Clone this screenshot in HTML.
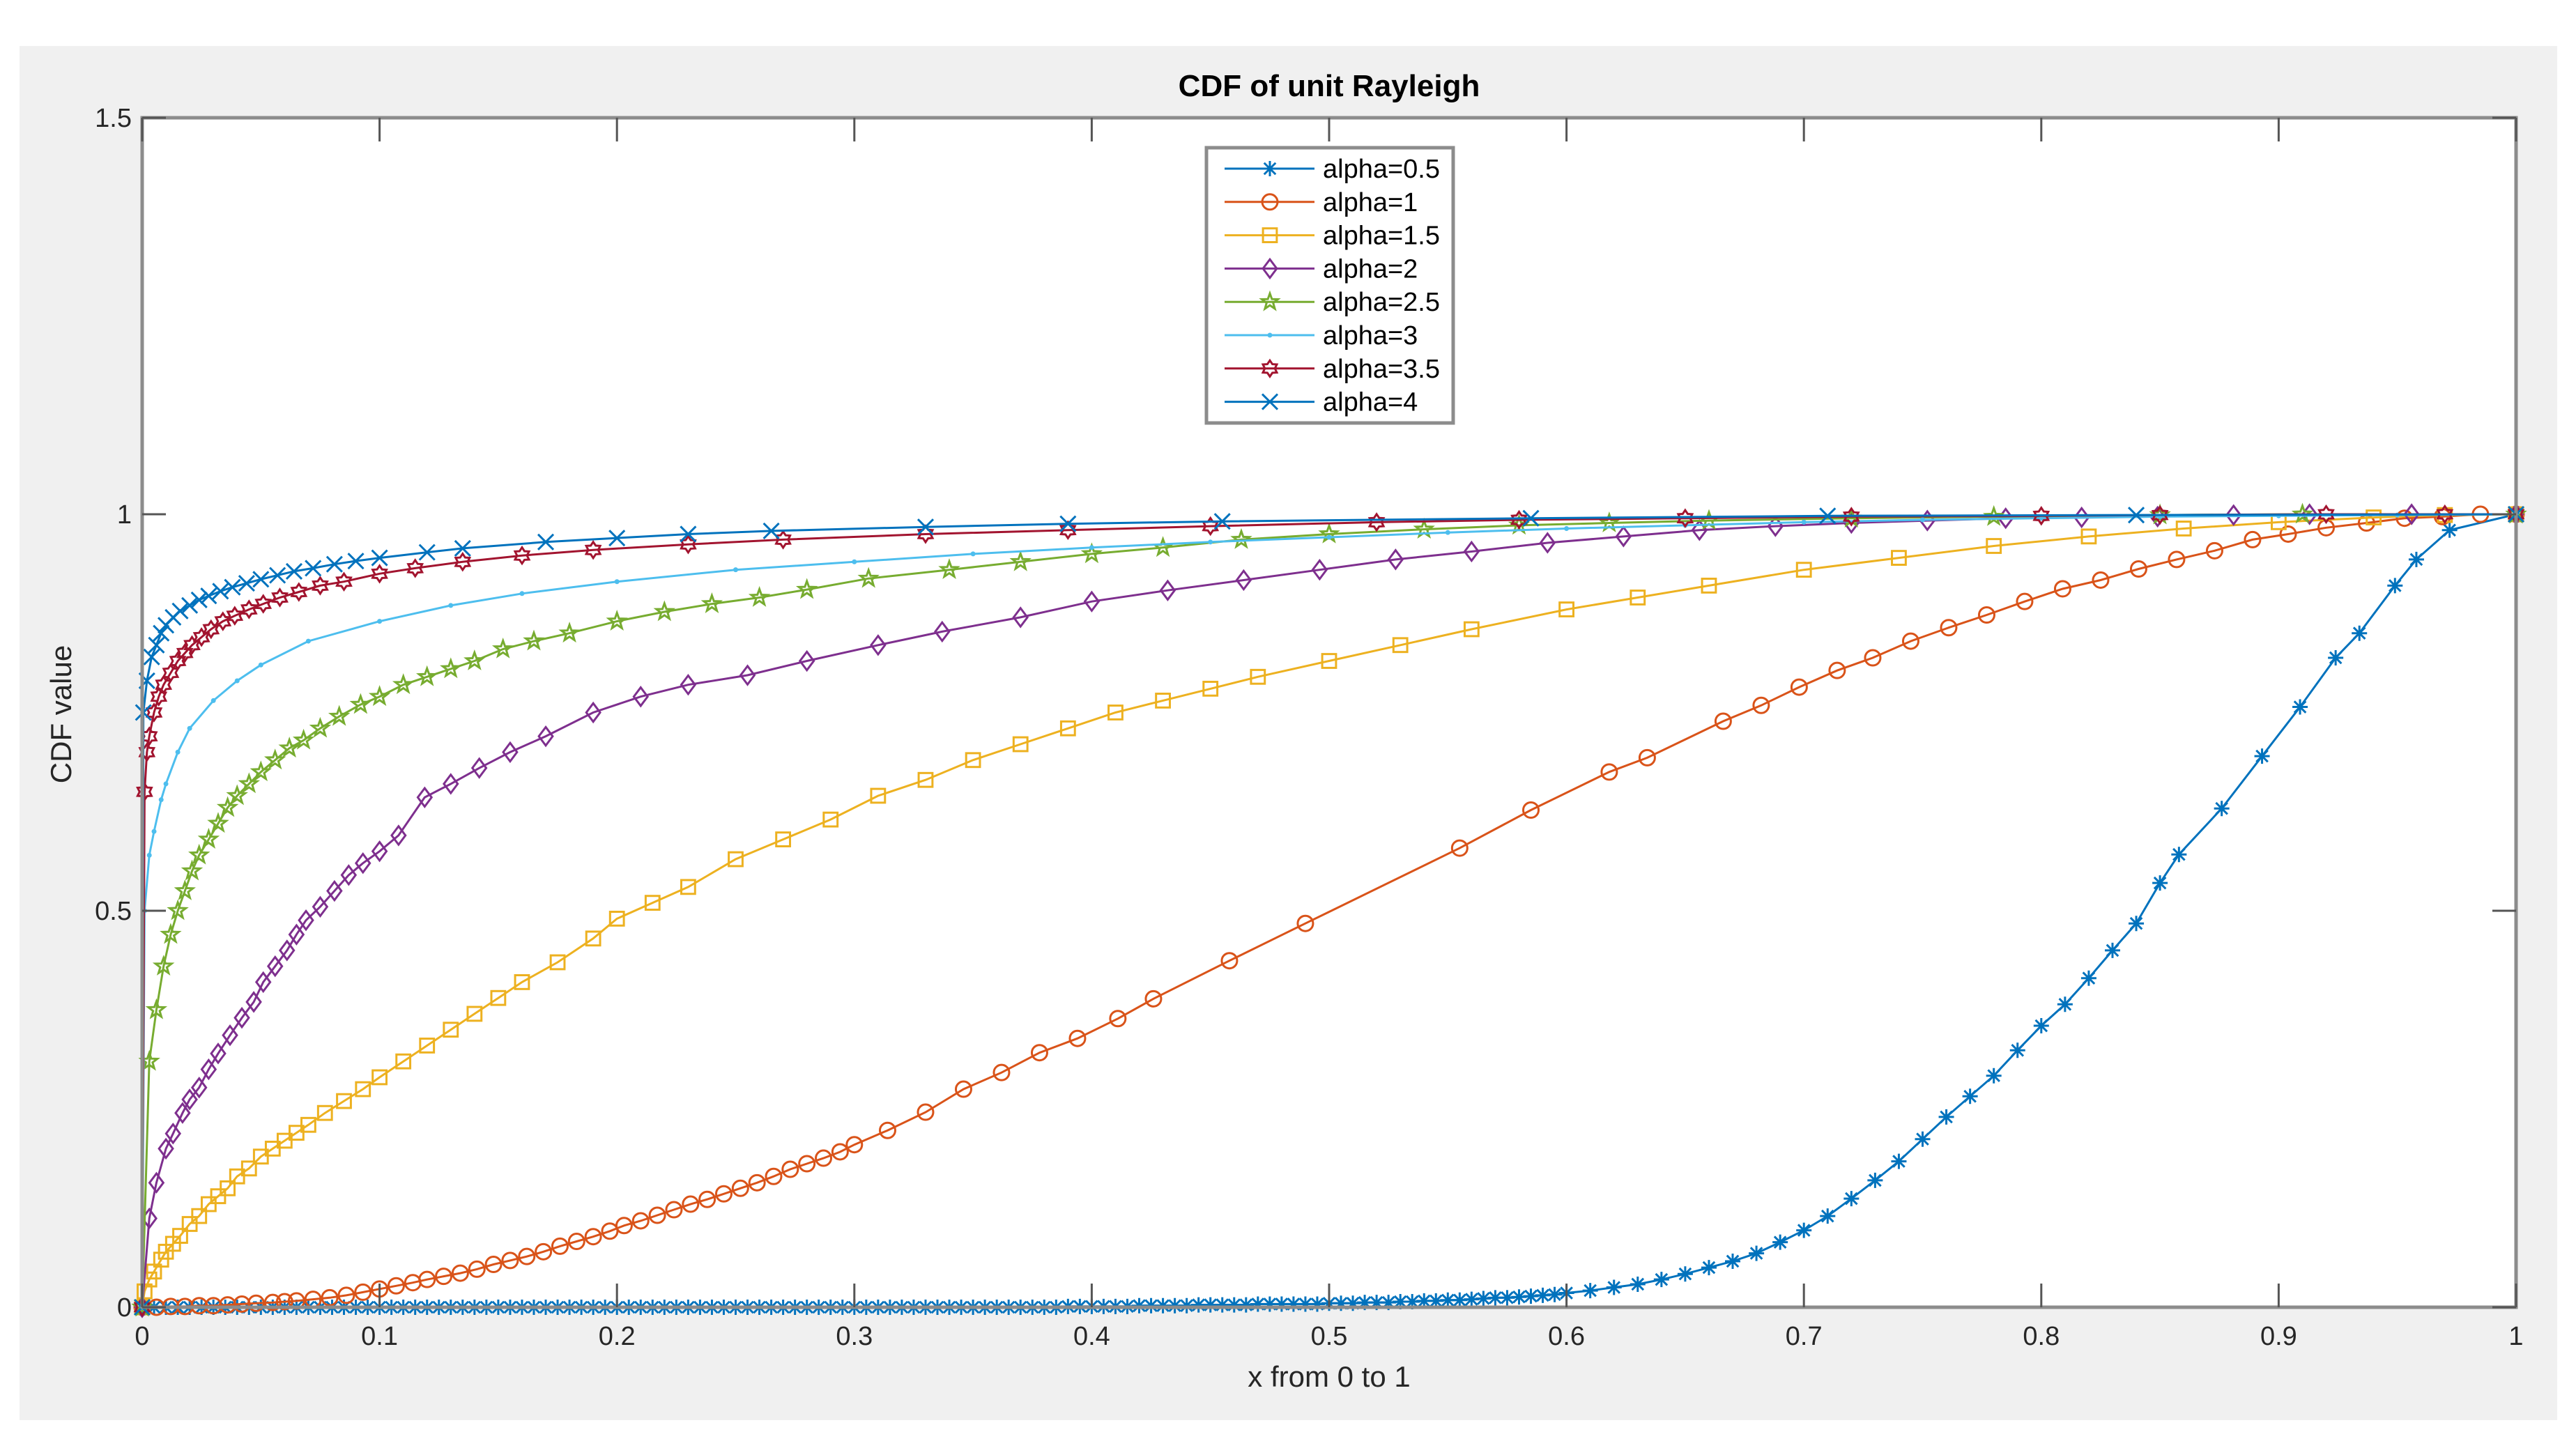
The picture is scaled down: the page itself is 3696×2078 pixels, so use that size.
<!DOCTYPE html>
<html><head><meta charset="utf-8"><style>
html,body{margin:0;padding:0;background:#fff;width:3696px;height:2078px;overflow:hidden}
svg{display:block}
text{font-family:"Liberation Sans",sans-serif}
</style></head><body>
<svg id="chart" width="3696" height="2078" viewBox="0 0 3696 2078" xmlns="http://www.w3.org/2000/svg">
<rect x="28" y="66" width="3641" height="1972" fill="#f0f0f0"/>
<rect x="204" y="169" width="3406" height="1707" fill="#ffffff"/>
<g id="marks"></g>
<g id="axes"></g>
<text x="1907" y="138" font-size="44" font-weight="bold" text-anchor="middle" fill="#000">CDF of unit Rayleigh</text>
<text x="1907" y="1990" font-size="42" text-anchor="middle" fill="#262626">x from 0 to 1</text>
<text x="102" y="1025" font-size="42" text-anchor="middle" fill="#262626" transform="rotate(-90 102 1025)">CDF value</text>
<g id="legend"></g>
</svg>
<script>
const xTicks=[0,0.1,0.2,0.3,0.4,0.5,0.6,0.7,0.8,0.9,1];
const xTickLabels=["0","0.1","0.2","0.3","0.4","0.5","0.6","0.7","0.8","0.9","1"];
const yTicks=[0,0.5,1,1.5];
const yTickLabels=["0","0.5","1","1.5"];
const seriesNames=["alpha=0.5","alpha=1","alpha=1.5","alpha=2","alpha=2.5","alpha=3","alpha=3.5","alpha=4"];

const x05=[0,0.005,0.01,0.015,0.02,0.025,0.03,0.035,0.04,0.045,0.05,0.055,0.06,0.065,0.07,0.075,0.08,0.085,0.09,0.095,0.1,0.105,0.11,0.115,0.12,0.125,0.13,0.135,0.14,0.145,0.15,0.155,0.16,0.165,0.17,0.175,0.18,0.185,0.19,0.195,0.2,0.205,0.21,0.215,0.22,0.225,0.23,0.235,0.24,0.245,0.25,0.255,0.26,0.265,0.27,0.275,0.28,0.285,0.29,0.295,0.3,0.305,0.31,0.315,0.32,0.325,0.33,0.335,0.34,0.345,0.35,0.355,0.36,0.365,0.37,0.375,0.38,0.385,0.39,0.395,0.4,0.405,0.41,0.415,0.42,0.425,0.43,0.435,0.44,0.445,0.45,0.455,0.46,0.465,0.47,0.475,0.48,0.485,0.49,0.495,0.5,0.505,0.51,0.515,0.52,0.525,0.53,0.535,0.54,0.545,0.55,0.555,0.56,0.565,0.57,0.575,0.58,0.585,0.59,0.595,0.6,0.61,0.62,0.63,0.64,0.65,0.66,0.67,0.68,0.69,0.7,0.71,0.72,0.73,0.74,0.75,0.76,0.77,0.78,0.79,0.8,0.81,0.82,0.83,0.84,0.85,0.858,0.876,0.893,0.909,0.924,0.934,0.949,0.958,0.972,1];
const y05=[0,0,0,0,0,0,0,0,0,0,0,0,0,0,0,0,0,0,0,0,0,0,0,0,0,0,0,0,0,0,0,0,0,0,0,0,0,0,0,0,0,0,0,0,0,0,0,0,0,0,0,0,0,0,0,0,0,0,0,0,0,0,0,0,0,0,0,0,0,0,0,0,0,0,0,0,0,0,0.001,0.001,0.001,0.001,0.001,0.001,0.002,0.002,0.002,0.002,0.002,0.003,0.003,0.003,0.003,0.003,0.004,0.004,0.004,0.004,0.004,0.004,0.005,0.005,0.005,0.006,0.006,0.006,0.007,0.007,0.008,0.008,0.009,0.009,0.01,0.011,0.012,0.012,0.013,0.014,0.015,0.016,0.018,0.021,0.025,0.029,0.035,0.042,0.05,0.058,0.068,0.082,0.097,0.115,0.137,0.16,0.184,0.212,0.24,0.266,0.292,0.324,0.355,0.382,0.415,0.45,0.484,0.535,0.571,0.629,0.695,0.757,0.819,0.85,0.91,0.943,0.98,1];
const x1=[0,0.006,0.012,0.018,0.024,0.03,0.036,0.042,0.048,0.055,0.06,0.065,0.072,0.079,0.086,0.093,0.1,0.107,0.114,0.12,0.127,0.134,0.141,0.148,0.155,0.162,0.169,0.176,0.183,0.19,0.197,0.203,0.21,0.217,0.224,0.231,0.238,0.245,0.252,0.259,0.266,0.273,0.28,0.287,0.294,0.3,0.314,0.33,0.346,0.362,0.378,0.394,0.411,0.426,0.458,0.49,0.555,0.585,0.618,0.634,0.666,0.682,0.698,0.714,0.729,0.745,0.761,0.777,0.793,0.809,0.825,0.841,0.857,0.873,0.889,0.904,0.92,0.937,0.953,0.969,0.985,1];
const y1=[0,0,0.001,0.001,0.002,0.002,0.003,0.004,0.005,0.006,0.007,0.008,0.01,0.012,0.015,0.019,0.023,0.027,0.031,0.035,0.039,0.043,0.048,0.054,0.059,0.064,0.07,0.077,0.083,0.089,0.096,0.103,0.109,0.116,0.123,0.13,0.136,0.143,0.15,0.157,0.165,0.174,0.181,0.188,0.196,0.205,0.223,0.246,0.275,0.296,0.321,0.339,0.364,0.389,0.437,0.484,0.579,0.627,0.675,0.693,0.739,0.759,0.782,0.803,0.819,0.84,0.857,0.873,0.89,0.906,0.917,0.931,0.943,0.954,0.968,0.975,0.983,0.989,0.995,0.997,1,1];
const x15=[0,0.001,0.003,0.005,0.008,0.01,0.013,0.016,0.02,0.024,0.028,0.032,0.036,0.04,0.045,0.05,0.055,0.06,0.065,0.07,0.077,0.085,0.093,0.1,0.11,0.12,0.13,0.14,0.15,0.16,0.175,0.19,0.2,0.215,0.23,0.25,0.27,0.29,0.31,0.33,0.35,0.37,0.39,0.41,0.43,0.45,0.47,0.5,0.53,0.56,0.6,0.63,0.66,0.7,0.74,0.78,0.82,0.86,0.9,0.94,0.97,1];
const y15=[0,0.02,0.035,0.045,0.06,0.07,0.08,0.09,0.105,0.115,0.13,0.14,0.15,0.165,0.175,0.19,0.2,0.21,0.22,0.23,0.245,0.26,0.275,0.29,0.31,0.33,0.35,0.37,0.39,0.41,0.435,0.465,0.49,0.51,0.53,0.565,0.59,0.615,0.645,0.665,0.69,0.71,0.73,0.75,0.765,0.78,0.795,0.815,0.835,0.855,0.88,0.895,0.91,0.93,0.945,0.96,0.972,0.982,0.99,0.996,0.999,1];
const x2=[0,0.003,0.006,0.01,0.013,0.017,0.02,0.024,0.028,0.032,0.037,0.042,0.047,0.051,0.056,0.061,0.065,0.069,0.075,0.081,0.087,0.093,0.1,0.108,0.119,0.13,0.142,0.155,0.17,0.19,0.21,0.23,0.255,0.28,0.31,0.337,0.37,0.4,0.432,0.464,0.496,0.528,0.56,0.592,0.624,0.656,0.688,0.72,0.752,0.785,0.817,0.849,0.881,0.913,0.956,1];
const y2=[0,0.112,0.157,0.2,0.219,0.245,0.262,0.277,0.3,0.32,0.343,0.365,0.385,0.41,0.43,0.45,0.47,0.488,0.505,0.525,0.545,0.56,0.575,0.595,0.643,0.66,0.68,0.7,0.72,0.75,0.77,0.785,0.797,0.815,0.835,0.852,0.87,0.89,0.904,0.917,0.93,0.943,0.953,0.964,0.972,0.98,0.985,0.989,0.992,0.995,0.996,0.997,0.999,1,1,1];
const x25=[0,0.003,0.006,0.009,0.012,0.015,0.018,0.021,0.024,0.028,0.032,0.036,0.04,0.045,0.05,0.056,0.062,0.068,0.075,0.083,0.092,0.1,0.11,0.12,0.13,0.14,0.152,0.165,0.18,0.2,0.22,0.24,0.26,0.28,0.306,0.34,0.37,0.4,0.43,0.463,0.5,0.54,0.58,0.618,0.66,0.72,0.78,0.85,0.91,1];
const y25=[0,0.31,0.375,0.43,0.47,0.5,0.525,0.55,0.57,0.59,0.61,0.63,0.645,0.66,0.675,0.69,0.705,0.715,0.73,0.745,0.76,0.77,0.785,0.795,0.805,0.815,0.83,0.84,0.85,0.865,0.877,0.887,0.895,0.905,0.919,0.93,0.94,0.95,0.958,0.968,0.975,0.981,0.986,0.989,0.992,0.995,0.997,0.999,1,1];
const x3=[0,0.001,0.003,0.005,0.008,0.01,0.015,0.02,0.03,0.04,0.05,0.07,0.1,0.13,0.16,0.2,0.25,0.3,0.35,0.4,0.45,0.5,0.55,0.6,0.65,0.7,0.75,0.8,0.85,0.9,0.95,1];
const y3=[0,0.5,0.57,0.6,0.64,0.66,0.7,0.73,0.765,0.79,0.81,0.84,0.865,0.885,0.9,0.915,0.93,0.94,0.95,0.958,0.965,0.971,0.977,0.982,0.986,0.99,0.993,0.995,0.997,0.998,0.999,1];
const x35=[0,0.001,0.002,0.003,0.005,0.007,0.009,0.012,0.015,0.018,0.021,0.025,0.029,0.034,0.039,0.045,0.051,0.058,0.066,0.075,0.085,0.1,0.115,0.135,0.16,0.19,0.23,0.27,0.33,0.39,0.45,0.52,0.58,0.65,0.72,0.8,0.85,0.92,0.97,1];
const y35=[0,0.65,0.7,0.72,0.75,0.77,0.785,0.8,0.815,0.825,0.835,0.845,0.855,0.865,0.872,0.88,0.887,0.895,0.902,0.91,0.915,0.925,0.932,0.94,0.948,0.955,0.962,0.968,0.975,0.98,0.985,0.99,0.993,0.995,0.997,0.998,0.999,1,1,1];
const x4=[0,0.0005,0.002,0.004,0.006,0.008,0.01,0.013,0.016,0.02,0.024,0.028,0.033,0.038,0.044,0.05,0.057,0.064,0.072,0.081,0.09,0.1,0.12,0.135,0.17,0.2,0.23,0.265,0.33,0.39,0.455,0.585,0.71,0.84,1];
const y4=[0,0.75,0.79,0.82,0.835,0.85,0.86,0.87,0.878,0.885,0.892,0.897,0.903,0.908,0.913,0.918,0.923,0.928,0.932,0.937,0.941,0.945,0.952,0.957,0.965,0.97,0.975,0.979,0.984,0.988,0.991,0.995,0.998,0.999,1];

const seriesX=[x05,x1,x15,x2,x25,x3,x35,x4];
const seriesY=[y05,y1,y15,y2,y25,y3,y35,y4];
const colors=["#0072BD","#D95319","#EDB120","#7E2F8E","#77AC30","#4DBEEE","#A2142F","#0072BD"];
const markers=["star","circle","square","diamond","pentagram","point","hexagram","x"];

const PX0=204,PX1=3610,PY0=1876,PY1=169;
const sx=v=>PX0+(v-0)/(1-0)*(PX1-PX0);
const sy=v=>PY0-(v-0)/(1.5-0)*(PY0-PY1);
const NS="http://www.w3.org/2000/svg";
function mk(tag,attrs,parent){const e=document.createElementNS(NS,tag);for(const k in attrs)e.setAttribute(k,attrs[k]);parent.appendChild(e);return e;}

function starPts(cx,cy,ro,ri,n){let p=[];for(let i=0;i<2*n;i++){const a=-Math.PI/2+i*Math.PI/n;const r=i%2?ri:ro;p.push((cx+r*Math.cos(a)).toFixed(1)+","+(cy+r*Math.sin(a)).toFixed(1));}return p.join(" ");}
function drawMarker(g,type,cx,cy,col){
  const s=11;let e;
  if(type==="star"){e=mk("path",{d:`M${cx-s},${cy}H${cx+s}M${cx},${cy-s}V${cy+s}M${cx-s*0.75},${cy-s*0.75}L${cx+s*0.75},${cy+s*0.75}M${cx-s*0.75},${cy+s*0.75}L${cx+s*0.75},${cy-s*0.75}`,stroke:col,"stroke-width":3,fill:"none"},g);}
  else if(type==="x"){e=mk("path",{d:`M${cx-s},${cy-s}L${cx+s},${cy+s}M${cx-s},${cy+s}L${cx+s},${cy-s}`,stroke:col,"stroke-width":3,fill:"none"},g);}
  else if(type==="circle"){e=mk("circle",{cx:cx,cy:cy,r:s,stroke:col,"stroke-width":3,fill:"none"},g);}
  else if(type==="square"){e=mk("rect",{x:cx-s*0.9,y:cy-s*0.9,width:s*1.8,height:s*1.8,stroke:col,"stroke-width":3,fill:"none"},g);}
  else if(type==="diamond"){e=mk("polygon",{points:`${cx},${cy-s*1.2} ${cx+s*0.9},${cy} ${cx},${cy+s*1.2} ${cx-s*0.9},${cy}`,stroke:col,"stroke-width":3,fill:"none"},g);}
  else if(type==="pentagram"){e=mk("polygon",{points:starPts(cx,cy,s*1.1,s*0.45,5),stroke:col,"stroke-width":3,fill:"none"},g);}
  else if(type==="hexagram"){e=mk("polygon",{points:starPts(cx,cy,s*1.05,s*0.65,6),stroke:col,"stroke-width":3,fill:"none"},g);}
  else {e=mk("circle",{cx:cx,cy:cy,r:3.5,fill:col},g);}
  
  
}

const marks=document.getElementById("marks");
for(let si=0;si<seriesX.length;si++){
  const g=mk("g",{},marks);
  
  
  const xs=seriesX[si],ys=seriesY[si];
  let d="";
  for(let i=0;i<xs.length;i++){d+=(i?"L":"M")+sx(xs[i]).toFixed(1)+","+sy(ys[i]).toFixed(1);}
  const p=mk("path",{d:d,stroke:colors[si],"stroke-width":3,fill:"none"},g);
  
  
  for(let i=0;i<xs.length;i++)drawMarker(g,markers[si],sx(xs[i]),sy(ys[i]),colors[si]);
}

const axes=document.getElementById("axes");
const box=mk("rect",{x:PX0,y:PY1,width:PX1-PX0,height:PY0-PY1,fill:"none",stroke:"#8c8c8c","stroke-width":5},axes);


const TL=34;
xTicks.forEach((v,i)=>{
  const x=sx(v);
  const t=mk("path",{d:`M${x},${PY0}V${PY0-TL}M${x},${PY1}V${PY1+TL}`,stroke:"#555","stroke-width":3},axes);
  
  
  const l=mk("text",{x:x,y:1930,"font-size":38,"text-anchor":"middle",fill:"#262626"},axes);
  l.textContent=xTickLabels[i];
  
  
});
yTicks.forEach((v,i)=>{
  const y=sy(v);
  const t=mk("path",{d:`M${PX0},${y}H${PX0+TL}M${PX1},${y}H${PX1-TL}`,stroke:"#555","stroke-width":3},axes);
  
  
  const l=mk("text",{x:PX0-15,y:y+13,"font-size":38,"text-anchor":"end",fill:"#262626"},axes);
  l.textContent=yTickLabels[i];
  
  
});

const leg=document.getElementById("legend");
const lb=mk("rect",{x:1731,y:212,width:354,height:395,fill:"#fff",stroke:"#8c8c8c","stroke-width":5},leg);


seriesNames.forEach((n,i)=>{
  const y=242+i*47.8;
  const g=mk("g",{},leg);
  
  
  mk("line",{x1:1757,y1:y,x2:1886,y2:y,stroke:colors[i],"stroke-width":3},g);
  drawMarker(g,markers[i],1822,y,colors[i]);
  const t=mk("text",{x:1898,y:y+13,"font-size":38,fill:"#000"},g);
  t.textContent=n;
  
  
});
</script>
</body></html>
